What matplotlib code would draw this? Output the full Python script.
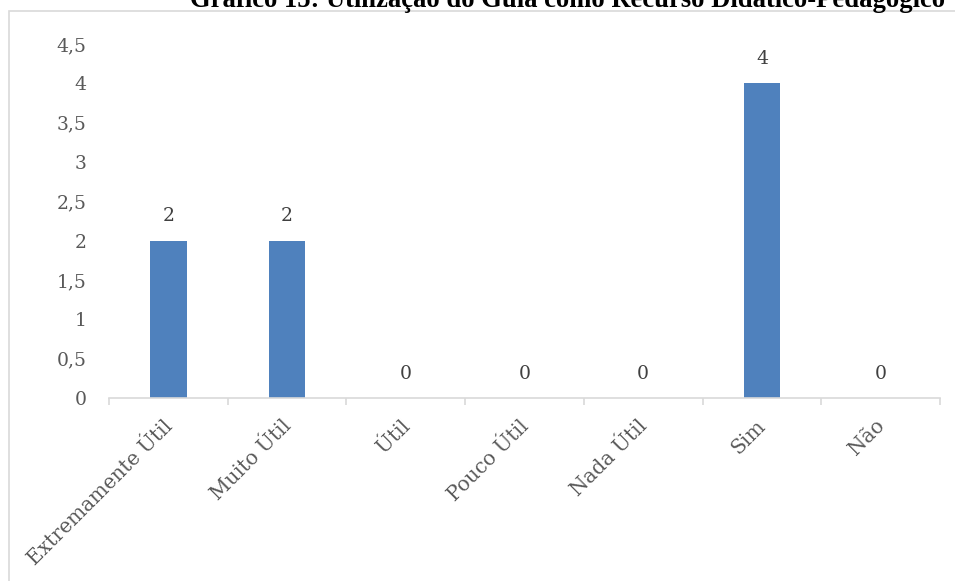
import matplotlib
matplotlib.use('Agg')
import matplotlib.pyplot as plt
from matplotlib.patches import Rectangle
from matplotlib.transforms import ScaledTranslation

categorias = ['Extremamente Útil', 'Muito Útil', 'Útil', 'Pouco Útil', 'Nada Útil', 'Sim', 'Não']
respostas = [2, 2, 0, 0, 0, 4, 0]
marcas_y = [0, 0.5, 1, 1.5, 2, 2.5, 3, 3.5, 4, 4.5]
rotulos_y = ['0', '0,5', '1', '1,5', '2', '2,5', '3', '3,5', '4', '4,5']

titulo = 'Gráfico 15: Utilização do Guia como Recurso Didático-Pedagógico'

azul = '#4F81BD'
cinza_texto = '#595959'
cinza_linha = '#D9D9D9'

W, H = 955, 581
fig = plt.figure(figsize=(W / 100, H / 100), dpi=100)

# moldura do gráfico (cortada à direita e embaixo)
fig.patches.append(Rectangle((9 / W, -0.1), 1.2, 1 - 11 / H + 0.1,
                             transform=fig.transFigure, fill=False,
                             edgecolor=cinza_linha, linewidth=1.2))

ax = fig.add_axes([109 / W, 1 - 398 / H, 831 / W, 354 / H])

x = list(range(len(categorias)))
ax.bar(x, respostas, width=0.31, color=azul, zorder=2)

for xi, v in zip(x, respostas):
    ax.annotate(str(v), (xi, v), xytext=(0, 11), textcoords='offset points',
                ha='center', va='bottom', fontsize=13.5, family='DejaVu Serif',
                color='#404040')

ax.set_xlim(-0.5, len(categorias) - 0.5)
ax.set_ylim(0, 4.5)
ax.set_yticks(marcas_y)
ax.set_yticklabels(rotulos_y, family='DejaVu Serif', fontsize=13.5, color=cinza_texto)
ax.tick_params(axis='y', length=0, pad=16)

ax.set_xticks(x)
ax.set_xticklabels(categorias, rotation=45, ha='right', rotation_mode='anchor',
                   family='DejaVu Serif', fontsize=14.5, color=cinza_texto)
ax.tick_params(axis='x', which='major', length=0, pad=13)
ax.set_xticks([i - 0.5 for i in range(len(categorias) + 1)], minor=True)
ax.tick_params(axis='x', which='minor', length=5, width=1.2, color=cinza_linha)

# desloca os rótulos inclinados um pouco para a esquerda
desloc = ScaledTranslation(-6 / 100, 0, fig.dpi_scale_trans)
for rotulo in ax.get_xticklabels():
    rotulo.set_transform(rotulo.get_transform() + desloc)

for lado in ['top', 'right', 'left']:
    ax.spines[lado].set_visible(False)
ax.spines['bottom'].set_color(cinza_linha)
ax.spines['bottom'].set_linewidth(1.2)

fig.text(945 / W, 1 - 7 / H, titulo, ha='right', va='baseline',
         family='Liberation Serif', fontweight='bold', fontsize=19.2, color='black')

fig.savefig('out.png', dpi=100)
